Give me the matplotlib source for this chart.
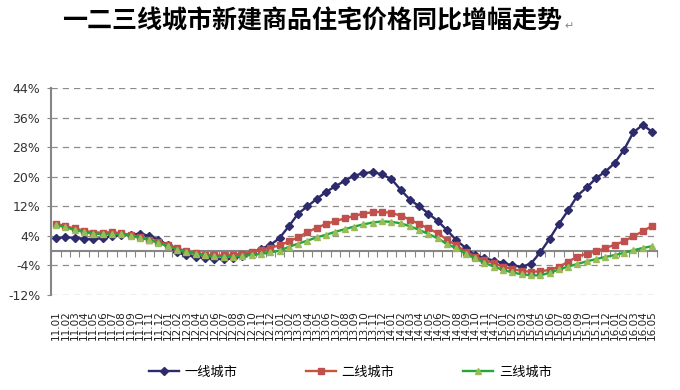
import matplotlib
matplotlib.use("Agg")
import matplotlib.pyplot as plt
import numpy as np

plt.rcParams['font.family'] = ['Noto Sans CJK SC', 'DejaVu Sans']

# month labels 11.01 ... 16.05
months = [f"{y:02d}.{m:02d}" for y in range(11, 17) for m in range(1, 13)][:65]

tier1 = [3.5, 3.6, 3.5, 3.2, 3.1, 3.4, 3.9, 4.2, 4.3, 4.6, 4.0, 3.0,
         1.5, -0.5, -1.2, -1.7, -2.0, -2.2, -2.3, -2.1, -1.5, -0.6, 0.5, 1.5,
         3.4, 6.6, 10.0, 12.0, 14.0, 15.9, 17.4, 18.9, 20.3, 20.9, 21.3, 20.6,
         19.4, 16.5, 13.8, 12.0, 10.0, 8.0, 5.5, 2.8, 0.7, -1.3, -2.0, -2.7,
         -3.3, -4.0, -4.4, -3.5, -0.5, 3.2, 7.2, 10.9, 14.9, 17.1, 19.6, 21.4,
         23.7, 27.3, 32.0, 34.0, 32.2]
tier2 = [7.3, 6.6, 6.0, 5.4, 4.9, 4.9, 5.0, 4.7, 4.3, 3.7, 3.0, 2.4,
         1.6, 0.7, -0.2, -0.7, -1.1, -1.3, -1.3, -1.1, -0.8, -0.4, 0.2, 0.8,
         1.4, 2.5, 3.6, 5.0, 6.2, 7.2, 8.0, 8.7, 9.4, 10.0, 10.4, 10.5,
         10.2, 9.5, 8.4, 7.2, 6.0, 4.7, 3.0, 1.4, -0.3, -1.6, -2.6, -3.4,
         -4.3, -5.0, -5.5, -5.7, -5.6, -5.2, -4.4, -3.0, -1.6, -0.8, -0.2, 0.7,
         1.6, 2.5, 3.9, 5.2, 6.7]
tier3 = [7.0, 6.3, 5.6, 5.0, 4.6, 4.5, 4.5, 4.4, 4.0, 3.5, 2.9, 2.1,
         1.2, 0.3, -0.4, -0.9, -1.3, -1.5, -1.6, -1.6, -1.4, -1.2, -0.9, -0.5,
         0.0, 1.0, 1.9, 2.7, 3.6, 4.3, 5.1, 5.8, 6.5, 7.1, 7.6, 7.9,
         7.8, 7.4, 6.6, 5.6, 4.5, 3.3, 1.8, 0.6, -0.8, -2.1, -3.3, -4.3,
         -5.2, -5.9, -6.4, -6.7, -6.7, -6.0, -5.1, -4.3, -3.6, -2.9, -2.3, -1.7,
         -1.2, -0.6, 0.1, 0.7, 1.2]

series_names = ['一线城市', '二线城市', '三线城市']
yticks = [-12, -4, 4, 12, 20, 28, 36, 44]

fig = plt.figure(figsize=(6.8, 3.9), dpi=100)
ax = fig.add_axes([0.0756, 0.2436, 0.890, 0.5308])

x = np.arange(len(months))
grey = '#868686'

ax.plot(x, tier1, color='#2D2B6B', lw=1.7, marker='D', ms=4.3,
        mfc='#2D2B6B', mec='#2D2B6B', label=series_names[0], zorder=3)
ax.plot(x, tier2, color='#C8553A', lw=1.7, marker='s', ms=4.8,
        mfc='#C0504D', mec='#C0504D', label=series_names[1], zorder=4)
ax.plot(x, tier3, color='#22A83A', lw=1.7, marker='^', ms=4.8,
        mfc='#9BBB59', mec='#9BBB59', label=series_names[2], zorder=5)

ax.set_xlim(-0.5, len(months) - 0.5)
ax.set_ylim(-12, 44)
ax.set_yticks(yticks)
ax.set_yticklabels([f"{v}%" for v in yticks], family='DejaVu Sans',
                   fontsize=9, color='#333333')
ax.tick_params(axis='y', length=3, color=grey, pad=5)

for v in yticks:
    ax.axhline(v, color='#8C8C8C', lw=0.9, ls=(0, (5, 4)), zorder=1)

for s in ['top', 'right']:
    ax.spines[s].set_visible(False)
ax.spines['left'].set_color(grey)
ax.spines['left'].set_linewidth(1.5)
ax.spines['bottom'].set_position(('data', 0))
ax.spines['bottom'].set_color(grey)
ax.spines['bottom'].set_linewidth(1.5)
ax.set_xticks(np.arange(-0.5, len(months), 1))
ax.tick_params(axis='x', length=4, color=grey, labelbottom=False)

# category labels drawn low, below the plot
sec = ax.secondary_xaxis(-0.072)
sec.set_xticks(x)
sec.set_xticklabels(months, rotation=90, family='DejaVu Sans',
                    fontsize=7.5, color='#222222')
sec.tick_params(length=0, pad=0)
sec.spines['bottom'].set_visible(False)

title = fig.text(62 / 680, 1 - 21 / 390, '一二三线城市新建商品住宅价格同比增幅走势',
                 fontsize=18, fontweight='bold', ha='left', va='center')
fig.canvas.draw()
ax.annotate('\u21b5', xy=(1, 0.3), xycoords=title, xytext=(2, 0),
            textcoords='offset points', fontsize=8, color='#888888',
            ha='left', va='center', family=['DejaVu Sans'])

fig.legend(loc='center', bbox_to_anchor=(0.515, 1 - 372 / 390), ncol=3,
           frameon=False, fontsize=9.5, handlelength=2.3, columnspacing=5.2,
           handletextpad=0.4)

fig.savefig('out.png', dpi=100)
